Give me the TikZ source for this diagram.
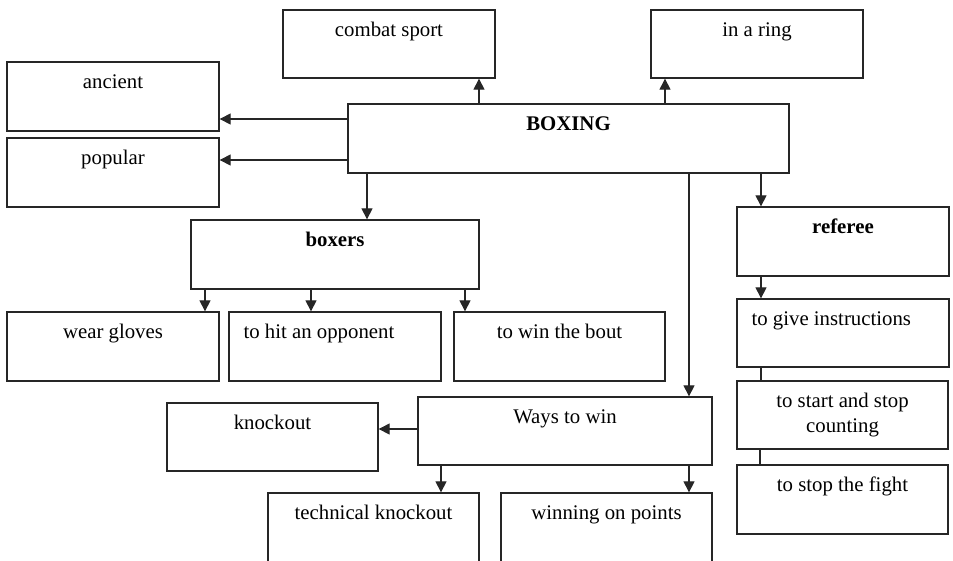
\documentclass[tikz,border=0pt]{standalone}
\usepackage{fontspec}
\setmainfont{Liberation Serif}
\usetikzlibrary{arrows.meta}
\begin{document}
\begin{tikzpicture}[x=1pt,y=-1pt,
  box/.style={draw=black!85, line width=1.3pt, rectangle, inner sep=0pt, minimum width=212pt, minimum height=69pt},
  arr/.style={draw=black!85, line width=1.1pt, -{Triangle[width=11pt,length=11pt]}},
  ln/.style={draw=black!85, line width=1.1pt},
  txt/.style={anchor=base, yshift=-27pt, font=\fontsize{20.8}{24}\selectfont, inner sep=0pt},
  ltxt/.style={anchor=base west, yshift=-27pt, xshift=15pt, font=\fontsize{20.8}{24}\selectfont, inner sep=0pt}]
\useasboundingbox (0,0) rectangle (953,560);
\clip (0,0) rectangle (953,560);
% boxes
\node[box, minimum height=68pt, label={[txt]north:combat sport}] (combat) at (389,44) {};
\node[box, minimum height=68pt, label={[txt]north:in a ring}] (ring) at (757,44) {};
\node[box, label={[txt]north:ancient}] (ancient) at (113,96.5) {};
\node[box, label={[txt]north:popular}] (popular) at (113,172.5) {};
\node[box, minimum width=441pt, label={[txt]north:\textbf{BOXING}}] (boxing) at (568.5,138.5) {};
\node[box, minimum width=288pt, label={[txt]north:\textbf{boxers}}] (boxers) at (335,254.5) {};
\node[box, label={[txt]north:wear gloves}] (wear) at (113,346.5) {};
\node[box, label={[ltxt]north west:to hit an opponent}] (hit) at (335,346.5) {};
\node[box, minimum width=211pt, label={[txt]north:to win the bout}] (bout) at (559.5,346.5) {};
\node[box, label={[txt]north:\textbf{referee}}] (referee) at (843,241.5) {};
\node[box, minimum height=68pt, label={[ltxt]north west:to give instructions}] (give) at (843,333) {};
\node[box, minimum width=211pt, minimum height=68pt, label={[txt]north:to start and stop}, label={[txt,yshift=-25pt]north:counting}] (startstop) at (842.5,415) {};
\node[box, minimum width=211pt, label={[txt]north:to stop the fight}] (stopfight) at (842.5,499.5) {};
\node[box, minimum width=294pt, minimum height=68pt, label={[txt]north:Ways to win}] (ways) at (565,431) {};
\node[box, minimum width=211pt, minimum height=68pt, label={[txt]north:knockout}] (knockout) at (272.5,437) {};
\node[box, minimum width=211pt, minimum height=70pt, label={[txt]north:technical knockout}] (tech) at (373.5,528) {};
\node[box, minimum width=211pt, minimum height=70pt, label={[txt]north:winning on points}] (points) at (606.5,528) {};
% guide coordinates
\coordinate (xa) at (479,0);
\coordinate (xb) at (665,0);
\coordinate (xc) at (367,0);
\coordinate (xd) at (689,0);
\coordinate (xe) at (761,0);
\coordinate (xf) at (205,0);
\coordinate (xg) at (311,0);
\coordinate (xh) at (465,0);
\coordinate (xi) at (441,0);
\coordinate (xj) at (760,0);
\coordinate (ya) at (0,119);
\coordinate (yb) at (0,160);
\coordinate (yc) at (0,429);
% connectors
\draw[arr] (boxing.north -| xa) -- (combat.south -| xa);
\draw[arr] (boxing.north -| xb) -- (ring.south -| xb);
\draw[arr] (boxing.west |- ya) -- (ancient.east |- ya);
\draw[arr] (boxing.west |- yb) -- (popular.east |- yb);
\draw[arr] (boxing.south -| xc) -- (boxers.north -| xc);
\draw[arr] (boxing.south -| xd) -- (ways.north -| xd);
\draw[arr] (boxing.south -| xe) -- (referee.north -| xe);
\draw[arr] (boxers.south -| xf) -- (wear.north -| xf);
\draw[arr] (boxers.south -| xg) -- (hit.north -| xg);
\draw[arr] (boxers.south -| xh) -- (bout.north -| xh);
\draw[arr] (referee.south -| xe) -- (give.north -| xe);
\draw[ln] (give.south -| xe) -- (startstop.north -| xe);
\draw[ln] (startstop.south -| xj) -- (stopfight.north -| xj);
\draw[arr] (ways.west |- yc) -- (knockout.east |- yc);
\draw[arr] (ways.south -| xi) -- (tech.north -| xi);
\draw[arr] (ways.south -| xd) -- (points.north -| xd);
\end{tikzpicture}
\end{document}
